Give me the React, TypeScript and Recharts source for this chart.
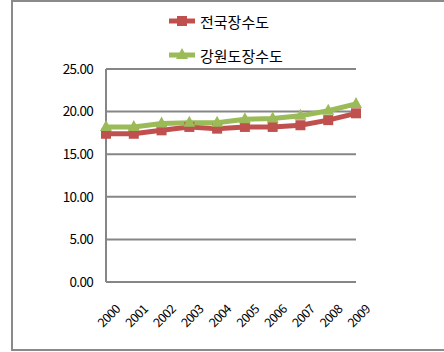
import { LineChart, Line, XAxis, YAxis, CartesianGrid } from "recharts";

const years = ["2000", "2001", "2002", "2003", "2004", "2005", "2006", "2007", "2008", "2009"];
const nationalValues = [17.4, 17.4, 17.8, 18.2, 18.0, 18.2, 18.2, 18.4, 19.0, 19.8];
const gangwonValues = [18.2, 18.2, 18.6, 18.7, 18.7, 19.1, 19.2, 19.5, 20.1, 20.9];
const yTicks = [0, 5, 10, 15, 20, 25];

const RED = "#C0504D";
const GREEN = "#9BBB59";
const FONT = "'Noto Sans CJK KR', 'Noto Sans', sans-serif";

const data = years.map((year, i) => ({
  year,
  전국장수도: nationalValues[i],
  강원도장수도: gangwonValues[i],
}));

const SquareDot = (props: any) => {
  const { cx, cy, index } = props;
  if (cx == null || cy == null) return null;
  return <rect key={`sq-${index}`} x={cx - 5} y={cy - 5} width={10} height={10} fill={RED} />;
};

const TriangleDot = (props: any) => {
  const { cx, cy, index } = props;
  if (cx == null || cy == null) return null;
  return (
    <polygon
      key={`tri-${index}`}
      points={`${cx},${cy - 7} ${cx + 6},${cy + 4} ${cx - 6},${cy + 4}`}
      fill={GREEN}
    />
  );
};

const YearTick = (props: any) => {
  const { x, y, payload } = props;
  return (
    <g transform={`translate(${x + 15},${y + 20})`}>
      <text
        textAnchor="end"
        transform="rotate(-45)"
        fontSize={12.5}
        fill="#000"
        fontFamily={FONT}
        letterSpacing={-0.6}
      >
        {payload.value}
      </text>
    </g>
  );
};

const legendItems = [
  { name: "전국장수도", color: RED, shape: "square" },
  { name: "강원도장수도", color: GREEN, shape: "triangle" },
];

const ChartLegend = () => (
  <div style={{ position: "absolute", left: 169, top: 9, display: "flex", flexDirection: "column", gap: 10 }}>
    {legendItems.map((item) => (
      <div key={item.name} style={{ display: "flex", alignItems: "center", height: 24 }}>
        <svg width={28} height={16}>
          <line x1={0} y1={8} x2={26} y2={8} stroke={item.color} strokeWidth={5} />
          {item.shape === "square" ? (
            <rect x={8} y={3} width={10} height={10} fill={item.color} />
          ) : (
            <polygon points="13,1 19,12 7,12" fill={item.color} />
          )}
        </svg>
        <span style={{ fontFamily: FONT, fontSize: 15, color: "#000", marginLeft: 3 }}>
          {item.name}
        </span>
      </div>
    ))}
  </div>
);

export default function App() {
  return (
    <div style={{ position: "fixed", left: 0, top: 0, width: 444, height: 352, overflow: "hidden", background: "#fff" }}>
      <div
        style={{
          position: "absolute",
          left: 11,
          top: 0,
          width: 450,
          height: 351,
          border: "2px solid #8a8a8a",
          boxSizing: "border-box",
        }}
      />
      <div style={{ position: "absolute", left: 0, top: 0 }}>
        <LineChart
          width={444}
          height={352}
          data={data}
          margin={{ top: 69, right: 88, bottom: 20, left: 0 }}
        >
          <CartesianGrid vertical={false} stroke="#868686" strokeWidth={2} />
          <XAxis
            dataKey="year"
            height={50}
            tick={<YearTick />}
            tickLine={false}
            axisLine={{ stroke: "#868686", strokeWidth: 2 }}
            interval={0}
          />
          <YAxis
            width={106}
            domain={[0, 25]}
            ticks={yTicks}
            tickFormatter={(v: number) => v.toFixed(2)}
            tickLine={false}
            tickSize={0}
            tickMargin={13}
            axisLine={{ stroke: "#868686", strokeWidth: 2 }}
            tick={{ fill: "#000", fontSize: 13.5, fontFamily: FONT, letterSpacing: -0.7 }}
          />
          <Line
            dataKey="전국장수도"
            stroke={RED}
            strokeWidth={5}
            dot={<SquareDot />}
            activeDot={false}
            isAnimationActive={false}
          />
          <Line
            dataKey="강원도장수도"
            stroke={GREEN}
            strokeWidth={5}
            dot={<TriangleDot />}
            activeDot={false}
            isAnimationActive={false}
          />
        </LineChart>
      </div>
      <ChartLegend />
    </div>
  );
}
